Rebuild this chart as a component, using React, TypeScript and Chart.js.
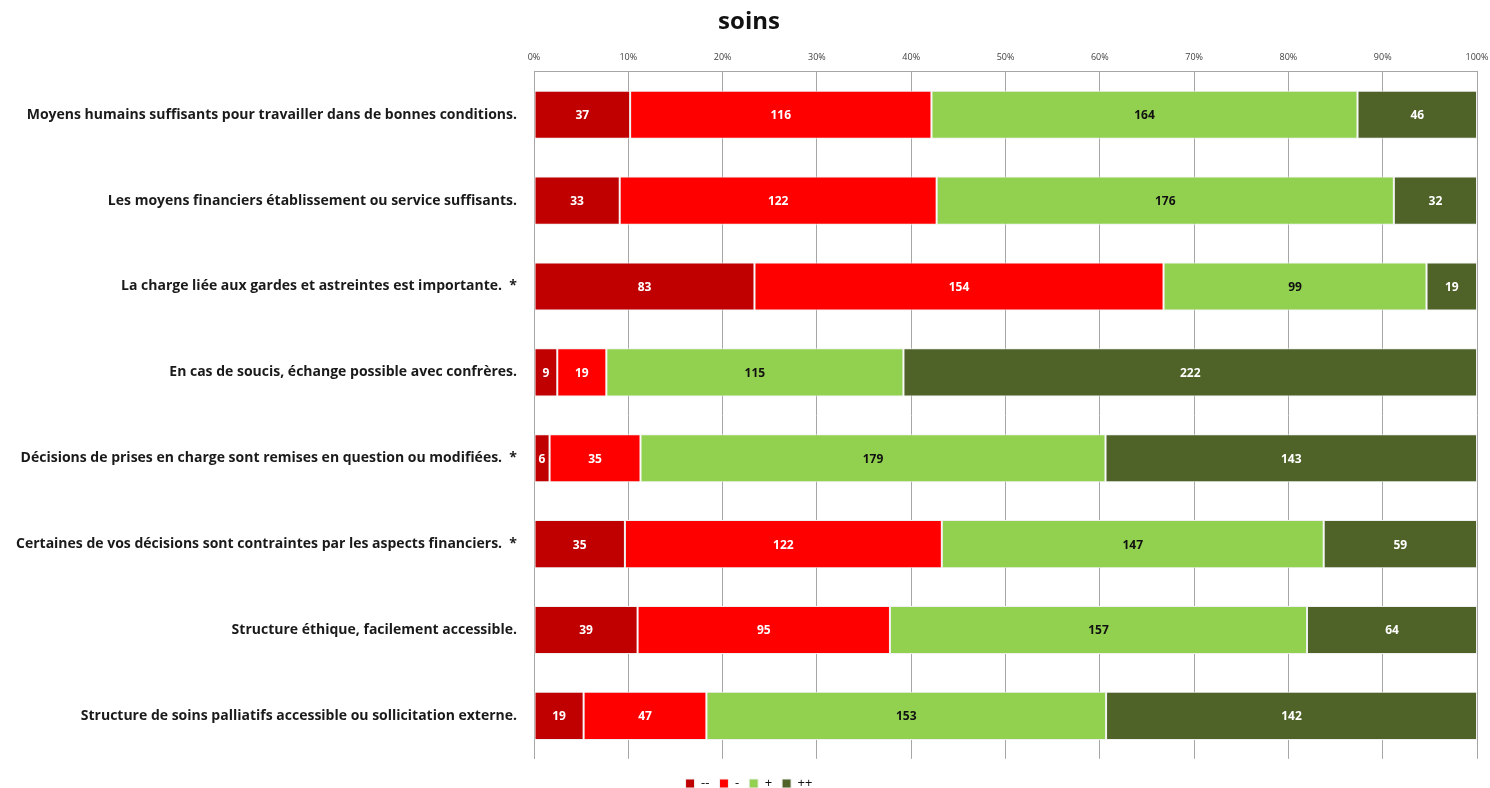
import React, { useEffect, useRef } from "react";
import { Chart, registerables } from "chart.js";

Chart.register(...registerables);

const categories = [
  "Moyens humains suffisants pour travailler dans de bonnes conditions.",
  "Les moyens financiers établissement ou service suffisants.",
  "La charge liée aux gardes et astreintes est importante.  *",
  "En cas de soucis, échange possible avec confrères.",
  "Décisions de prises en charge sont remises en question ou modifiées.  *",
  "Certaines de vos décisions sont contraintes par les aspects financiers.  *",
  "Structure éthique, facilement accessible.",
  "Structure de soins palliatifs accessible ou sollicitation externe.",
];

const seriesLabels = ["--", "-", "+", "++"];
const veryNegative = [37, 33, 83, 9, 6, 35, 39, 19];
const negative = [116, 122, 154, 19, 35, 122, 95, 47];
const positive = [164, 176, 99, 115, 179, 147, 157, 153];
const veryPositive = [46, 32, 19, 222, 143, 59, 64, 142];

const seriesColors = ["#C00000", "#FF0000", "#92D050", "#4F6228"];
const labelColors = ["#ffffff", "#ffffff", "#111111", "#ffffff"];
const xTicks = [0, 10, 20, 30, 40, 50, 60, 70, 80, 90, 100];

const FONT = "'Open Sans', 'Noto Sans', sans-serif";

const counts = [veryNegative, negative, positive, veryPositive];
const totals = categories.map((_, i) => counts.reduce((s, arr) => s + arr[i], 0));

// Writes the raw count in the middle of each segment
const segmentLabels = {
  id: "segmentLabels",
  afterDatasetsDraw(chart: any) {
    const ctx = chart.ctx;
    ctx.save();
    ctx.font = `bold 12px ${FONT}`;
    ctx.textAlign = "center";
    ctx.textBaseline = "middle";
    chart.data.datasets.forEach((ds: any, di: number) => {
      const meta = chart.getDatasetMeta(di);
      meta.data.forEach((bar: any, i: number) => {
        const raw = ds.counts[i];
        const cx = (bar.x + bar.base) / 2;
        ctx.fillStyle = labelColors[di];
        ctx.fillText(String(raw), cx, bar.y + 1);
      });
    });
    ctx.restore();
  },
};

export default function App() {
  const ref = useRef<HTMLCanvasElement>(null);

  useEffect(() => {
    if (!ref.current) return;
    const chart = new Chart(ref.current, {
      type: "bar",
      data: {
        labels: categories,
        datasets: counts.map((arr, di) => ({
          label: seriesLabels[di],
          data: arr.map((v, i) => (v / totals[i]) * 100),
          counts: arr,
          backgroundColor: seriesColors[di],
          borderColor: "#f0f0f0",
          borderWidth: 1,
          borderSkipped: false,
          categoryPercentage: 1,
          barPercentage: 0.56,
        })) as any,
      },
      options: {
        indexAxis: "y",
        animation: false,
        responsive: false,
        maintainAspectRatio: false,
        layout: { padding: { left: 8, right: 0, top: 0, bottom: -12 } },
        plugins: {
          title: {
            display: true,
            text: "soins",
            color: "#111",
            font: { family: FONT, size: 24, weight: "bold" },
            padding: { top: 8, bottom: 4 },
          },
          legend: {
            position: "bottom",
            title: {
              display: true,
              text: " ",
              font: { size: 1 },
              padding: { top: 7, bottom: 0 },
            },
            labels: {
              color: "#111",
              boxWidth: 9,
              boxHeight: 9,
              padding: 10,
              font: { family: FONT, size: 13 },
            },
          },
          tooltip: { enabled: false },
        },
        scales: {
          x: {
            position: "top",
            stacked: true,
            min: 0,
            max: 100,
            afterFit(scale: any) {
              scale.height = 31;
              scale.paddingRight = 13;
              scale.paddingLeft = 0;
            },
            afterBuildTicks(scale: any) {
              scale.ticks = xTicks.map((v) => ({ value: v }));
            },
            ticks: {
              padding: 9,
              color: "#404040",
              font: { family: FONT, size: 9 },
              callback: (v: any) => `${v}%`,
            },
            grid: { color: "#a6a6a6", lineWidth: 1, drawTicks: false },
            border: { color: "#a6a6a6" },
          },
          y: {
            stacked: true,
            afterFit(scale: any) {
              scale.width = 526;
            },
            ticks: {
              padding: 9,
              color: "#1a1a1a",
              font: { family: FONT, size: 14, weight: "bold" },
            },
            grid: { display: false },
            border: { color: "#a6a6a6" },
          },
        },
      },
      plugins: [segmentLabels],
    });
    return () => chart.destroy();
  }, []);

  return (
    <div style={{ position: "absolute", left: 0, top: 0, width: 1490, height: 788, background: "#fff" }}>
      <canvas ref={ref} width={1490} height={788} />
    </div>
  );
}
